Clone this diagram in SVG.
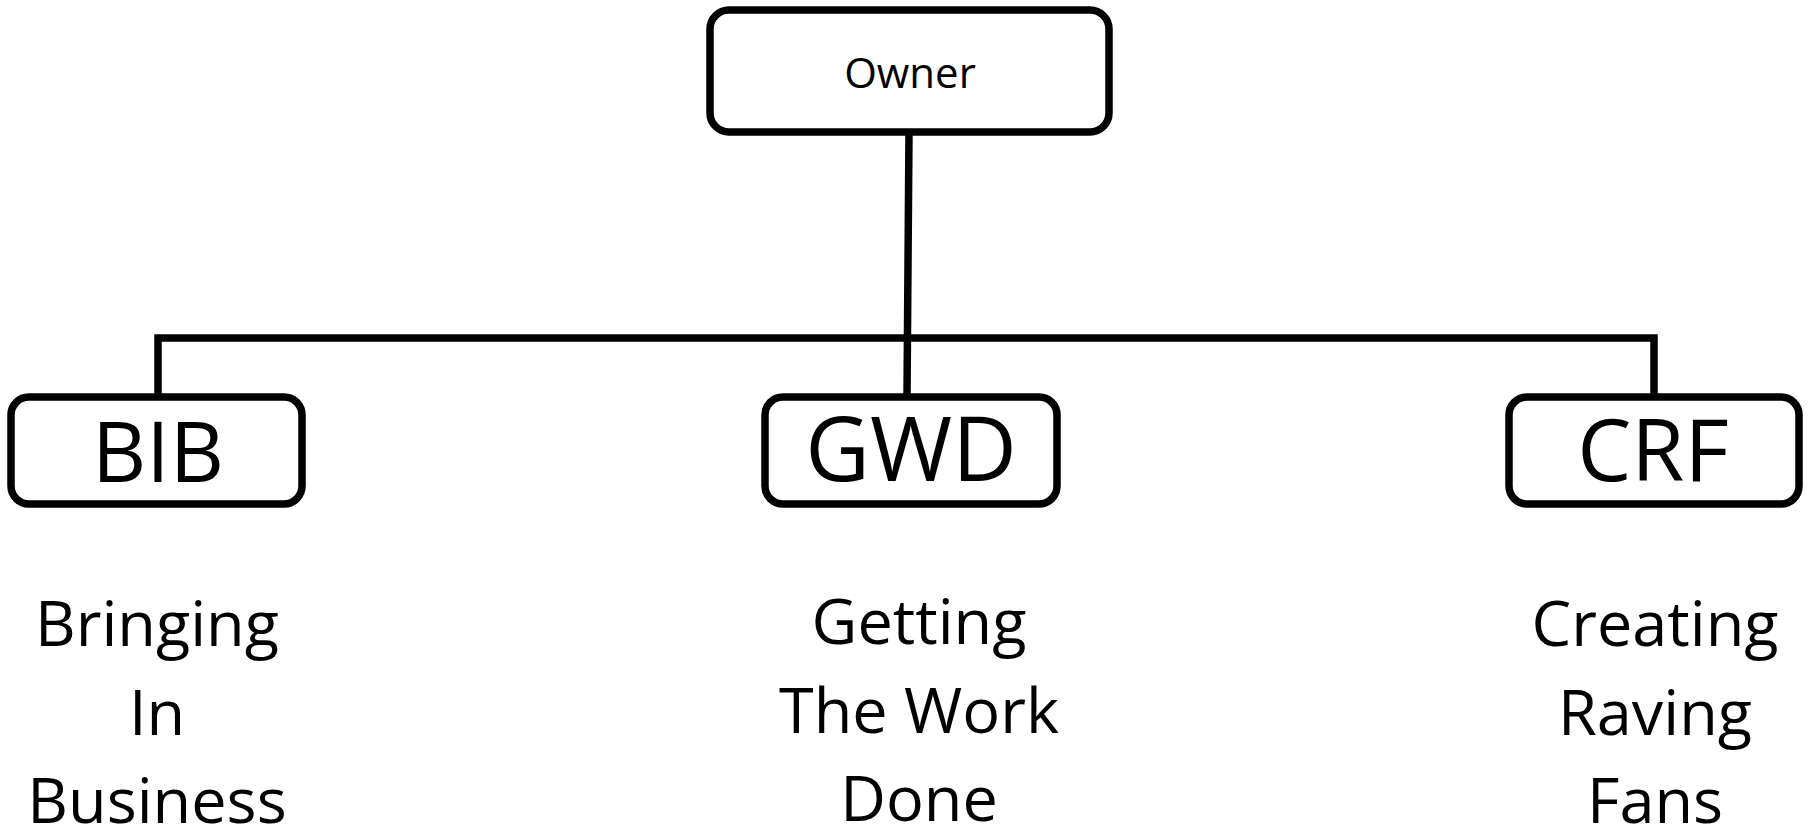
<svg xmlns="http://www.w3.org/2000/svg" width="1814" height="831" viewBox="0 0 1814 831">
<style>
.box{fill:#fff;stroke:#000;stroke-width:7.5}
.ln{stroke:#000;stroke-width:7.5;fill:none}
text{font-family:"Open Sans","Liberation Sans",sans-serif;fill:#000;text-anchor:middle}
.t1{font-size:84px}
.t0{font-size:42px}
.t2{font-size:63px}
</style>
<rect width="1814" height="831" fill="#fff"/>
<g id="connectors">
<line class="ln" x1="909" y1="132" x2="907" y2="397"/>
<polyline class="ln" points="158,397 158,338 1654,338 1654,397"/>
</g>
<g id="owner">
<rect class="box" x="710" y="10" width="399" height="122" rx="19"/>
<text class="t0" x="910" y="88">Owner</text>
</g>
<g id="bib">
<rect class="box" x="11" y="397" width="291" height="107" rx="18"/>
<text class="t1" x="158" y="482">BIB</text>
</g>
<g id="gwd">
<rect class="box" x="765" y="397" width="292" height="107" rx="18"/>
<text class="t1" x="911" y="481" style="font-size:89px">GWD</text>
</g>
<g id="crf">
<rect class="box" x="1509" y="397" width="290" height="107" rx="18"/>
<text class="t1" x="1653" y="481" style="font-size:86px">CRF</text>
</g>
<g id="bib-label">
<text class="t2" x="157" y="646">Bringing</text>
<text class="t2" x="157" y="735">In</text>
<text class="t2" x="157" y="823">Business</text>
</g>
<g id="gwd-label">
<text class="t2" x="919" y="644">Getting</text>
<text class="t2" x="919" y="733">The Work</text>
<text class="t2" x="919" y="821">Done</text>
</g>
<g id="crf-label">
<text class="t2" x="1655" y="646">Creating</text>
<text class="t2" x="1655" y="735">Raving</text>
<text class="t2" x="1655" y="823">Fans</text>
</g>
</svg>
